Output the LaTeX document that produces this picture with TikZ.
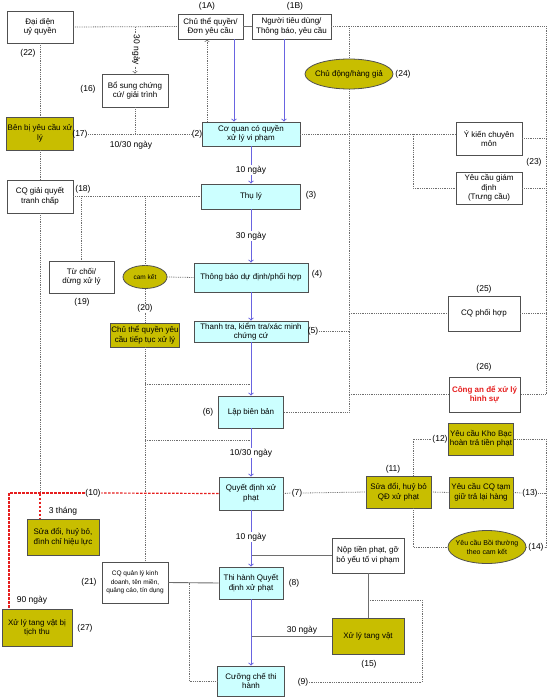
\documentclass[tikz,border=0pt]{standalone}
\usepackage{fontspec}
\setmainfont{Liberation Sans}
\usetikzlibrary{shapes.geometric}
\definecolor{cyanfill}{RGB}{204,255,255}
\definecolor{olivefill}{RGB}{200,190,0}
\definecolor{flowblue}{RGB}{105,100,225}
\definecolor{linegrey}{RGB}{110,110,110}
\definecolor{boxgrey}{RGB}{80,80,80}
\definecolor{redcol}{RGB}{230,30,30}
\begin{document}
\begin{tikzpicture}[x=1pt, y=-1pt,
  every node/.style={font=\fontsize{8}{9.5}\selectfont, align=center},
  box/.style={draw=boxgrey, line width=0.8pt, inner sep=1pt},
  cyanbox/.style={box, fill=cyanfill},
  olivebox/.style={box, fill=olivefill},
  oval/.style={ellipse, draw=boxgrey, line width=0.8pt, fill=olivefill, inner sep=0pt},
  lbl/.style={font=\fontsize{8.5}{10}\selectfont, inner sep=0.5pt},
  dotline/.style={linegrey, densely dotted, line width=0.8pt},
  solidline/.style={linegrey, line width=0.9pt},
  flow/.style={flowblue, line width=1pt, ->},
  redline/.style={redcol, dash pattern=on 2.5pt off 1.5pt, line width=1.2pt}]
        \path[use as bounding box, fill=white] (0,0) rectangle (548,700);
        \node[box, minimum width=66, minimum height=32] (dd) at (40,27) {Đại diện\\uỷ quyền};
        \node[box, minimum width=65, minimum height=25] (cthe) at (210.5,26.5) {Chủ thể quyền/\\Đơn yêu cầu};
        \node[box, minimum width=79, minimum height=25] (ntd) at (291.5,26.5) {Người tiêu dùng/\\Thông báo, yêu cầu};
        \node[box, minimum width=66, minimum height=33] (bs) at (135,90.5) {Bổ sung chứng\\cứ/ giải trình};
        \node[oval, minimum width=88, minimum height=30, label={center:Chủ động/hàng giả}] (cd) at (349,74) {};
        \node[olivebox, minimum width=66, minimum height=33] (bb) at (40,133.5) {Bên bị yêu cầu xử\\lý};
        \node[cyanbox, minimum width=98, minimum height=24] (cq) at (251,134) {Cơ quan có quyền\\xử lý vi phạm};
        \node[box, minimum width=66, minimum height=33] (yk) at (489,138.5) {Ý kiến chuyên\\môn};
        \node[box, minimum width=66, minimum height=32] (gd) at (489,188) {Yêu cầu giám\\định\\(Trưng cầu)};
        \node[box, minimum width=66, minimum height=33] (gq) at (40,196.5) {CQ giải quyết\\tranh chấp};
        \node[cyanbox, minimum width=99, minimum height=25] (tl) at (251,196.5) {Thụ lý};
        \node[box, minimum width=65, minimum height=32] (tc) at (81.5,277) {Từ chối/\\dừng xử lý};
        \node[oval, minimum width=44, minimum height=23, label={[font=\fontsize{6.5}{8}\selectfont]center:cam kết}] (ck) at (145,277) {};
        \node[cyanbox, minimum width=114, minimum height=29] (tb) at (251,277.5) {Thông báo dự định/phối hợp};
        \node[box, minimum width=72, minimum height=35] (ph) at (484,313.5) {CQ phối hợp};
        \node[olivebox, minimum width=68, minimum height=24] (ct2) at (145,335) {Chủ thể quyền yêu\\cầu tiếp tục xử lý};
        \node[cyanbox, minimum width=114, minimum height=21] (tt) at (251,331.5) {Thanh tra, kiểm tra/xác minh\\chứng cứ};
        \node[box, minimum width=71, minimum height=35, text=redcol, font=\bfseries\fontsize{8}{9.5}\selectfont] (ca) at (484.5,394.5) {Công an để xử lý\\hình sự};
        \node[cyanbox, minimum width=65, minimum height=32] (lbb) at (251,412) {Lập biên bản};
        \node[olivebox, minimum width=64, minimum height=32] (kb) at (481,439) {Yêu cầu Kho Bạc\\hoàn trả tiền phạt};
        \node[cyanbox, minimum width=64, minimum height=33] (qd) at (251,493.5) {Quyết định xử\\phạt};
        \node[olivebox, minimum width=65, minimum height=32] (sd) at (398.5,492) {Sửa đổi, huỷ bỏ\\QĐ xử phạt};
        \node[olivebox, minimum width=64, minimum height=31] (tg) at (481,492.5) {Yêu cầu CQ tạm\\giữ trả lại hàng};
        \node[olivebox, minimum width=72, minimum height=36] (sdl) at (63,537) {Sửa đổi, huỷ bỏ,\\đình chỉ hiệu lực};
        \node[box, minimum width=72, minimum height=35] (np) at (368,555.5) {Nộp tiền phạt, gỡ\\bỏ yếu tố vi phạm};
        \node[oval, minimum width=78, minimum height=33, label={[font=\fontsize{7}{9}\selectfont]center:Yêu cầu Bồi thường\\theo cam kết}] (bt) at (487,547) {};
        \node[box, minimum width=66, minimum height=41, font=\fontsize{6.5}{8.5}\selectfont] (ql) at (135,582.5) {CQ quản lý kinh\\doanh, tên miền,\\quảng cáo, tín dụng};
        \node[cyanbox, minimum width=64, minimum height=32] (th) at (251,583) {Thi hành Quyết\\định xử phạt};
        \node[olivebox, minimum width=70, minimum height=37] (tv) at (37,627.5) {Xử lý tang vật bị\\tịch thu};
        \node[olivebox, minimum width=72, minimum height=36] (xl) at (368,636) {Xử lý tang vật};
        \node[cyanbox, minimum width=67, minimum height=30] (cc) at (251,681) {Cưỡng chế thi\\hành};
        \node[lbl] (n1a) at (207,6) {(1A)};
        \node[lbl] (n1b) at (295,6) {(1B)};
        \node[lbl] (n22) at (28,53) {(22)};
        \node[lbl] (n16) at (88,89) {(16)};
        \node[lbl] (n24) at (403,74) {(24)};
        \node[lbl] (n17) at (80,134) {(17)};
        \node[lbl] (n2) at (197,134) {(2)};
        \node[lbl] (n23) at (534,162) {(23)};
        \node[lbl] (n18) at (83,189) {(18)};
        \node[lbl] (n3) at (311,195) {(3)};
        \node[lbl] (n19) at (82,302) {(19)};
        \node[lbl] (n20) at (145,308) {(20)};
        \node[lbl] (n4) at (317,274) {(4)};
        \node[lbl] (n25) at (484,289) {(25)};
        \node[lbl] (n5) at (313,331) {(5)};
        \node[lbl] (n26) at (484,367) {(26)};
        \node[lbl] (n6) at (208,412) {(6)};
        \node[lbl] (n12) at (440,439) {(12)};
        \node[lbl] (n11) at (393,469) {(11)};
        \node[lbl] (n7) at (297,493) {(7)};
        \node[lbl] (n10) at (93,493) {(10)};
        \node[lbl] (n13) at (530,493) {(13)};
        \node[lbl] (n14) at (536,547) {(14)};
        \node[lbl] (n21) at (89,582) {(21)};
        \node[lbl] (n8) at (294,583) {(8)};
        \node[lbl] (n27) at (85,628) {(27)};
        \node[lbl] (n15) at (369,664) {(15)};
        \node[lbl] (n9) at (303,682) {(9)};
        \coordinate (vx) at (349,0);
        \coordinate (rx) at (546,0);
        \coordinate (sx) at (413,0);
        \coordinate (lx) at (9,0);
        \coordinate (qx) at (189,0);
        \coordinate (j1) at (145,384);
        \coordinate (j2) at (145,440);
        \coordinate (j4) at (368,600);
        \coordinate (j5) at (422,600);
        \draw[dotline] (dd.east) -- (cthe.west);
        \draw[dotline, ->] (bs.north |- dd.east) -- (bs.north);
        \draw[dotline] (bs.south) -- (bs.south |- n17.east);
        \draw[dotline] (n17.east) -- (n2.west);
        \draw[dotline] (dd.south) -- (bb.north);
        \draw[dotline] (bb.south) -- (gq.north);
        \draw[dotline] (gq.south) -- (gq.south |- qd.west);
        \draw[dotline, ->] ([xshift=-44pt]cq.north) -- ([xshift=-44pt]cq.north |- cthe.south);
        \draw[solidline] (cthe.east) -- (ntd.west);
        \draw[flow] ([xshift=23.5pt]cthe.south) -- ([xshift=23.5pt]cthe.south |- cq.north);
        \draw[flow] ([xshift=-7.5pt]ntd.south) -- ([xshift=-7.5pt]ntd.south |- cq.north);
        \draw[dotline] (ntd.east) -| (ca.east -| rx) -- (ca.east);
        \draw[dotline] (ntd.east -| vx) -- (cd.north);
        \draw[dotline] (cd.south) -- (lbb.east -| vx) -- (lbb.east);
        \draw[dotline] (cq.east) -- (cq.east -| yk.west);
        \draw[dotline] (cq.east -| sx) |- (gd.west);
        \draw[dotline] (yk.east) -- (yk.east -| rx);
        \draw[dotline] (gd.east) -- (gd.east -| rx);
        \draw[dotline] (n5.east) -- (n5.east -| vx);
        \draw[dotline] (ph.west -| vx) -- (ph.west);
        \draw[dotline] (ph.east) -- (ph.east -| rx);
        \draw[dotline] (ca.west -| vx) -- (ca.west);
        \draw[dotline] (gq.east) -- (tl.west);
        \draw[dotline] (tc.north |- gq.east) -- (tc.north);
        \draw[dotline] (ck.north |- gq.east) -- (ck.north);
        \draw[dotline] (ck.east) -- (tb.west);
        \draw[dotline] (ck.south) -- (n20.north);
        \draw[dotline] (n20.south) -- (ct2.north);
        \draw[dotline] (ct2.south) -- (ct2.south |- ql.north);
        \draw[dotline] (j1) -- (j1 -| lbb.north);
        \draw[dotline] (j2) -- (j2 -| lbb.north);
        \draw[redline] (qd.west) -- (n10.east);
        \draw[redline] (n10.west) -| (tv.north -| lx);
        \draw[redline] (gq.south |- qd.west) -- (gq.south |- sdl.north);
        \draw[dotline] (qd.east) -- (n7.west);
        \draw[dotline] (n7.east) -- (sd.west);
        \draw[dotline] (sd.north -| sx) |- (n12.west);
        \draw[dotline] (sd.south -| sx) |- (bt.west);
        \draw[dotline] (sd.east) -- (tg.west);
        \draw[dotline] (tg.east) -- (n13.west);
        \draw[dotline] (n13.east) -- (n13.east -| rx);
        \draw[dotline] (kb.east) -| (n14.east -| rx) -- (n14.east);
        \draw[dotline] (bt.east) -- (n14.west);
        \draw[solidline] (ql.east) -- (th.west);
        \draw[dotline] (ql.east -| qx) |- (cc.west);
        \draw[solidline] (qd.south |- np.west) -- (np.west);
        \draw[solidline] (np.south) -- (xl.north);
        \draw[solidline] (th.south |- xl.west) -- (xl.west);
        \draw[dotline] (j4) -- (j5) |- (n9.east);
        \draw[flow] (cq.south) -- (tl.north);
        \draw[flow] (tl.south) -- (tb.north);
        \draw[flow] (tb.south) -- (tt.north);
        \draw[flow] (tt.south) -- (lbb.north);
        \draw[flow] (lbb.south) -- (qd.north);
        \draw[flow] (qd.south) -- (th.north);
        \draw[flow] (th.south) -- (cc.north);
        \node[lbl, rotate=-90, fill=white] (t30a) at (136,50) {30 ngày};
        \node[lbl] (t1030a) at (131,145) {10/30 ngày};
        \node[lbl, fill=white] (t10a) at (251,170) {10 ngày};
        \node[lbl, fill=white] (t30b) at (251,236) {30 ngày};
        \node[lbl, fill=white] (t1030b) at (251,453) {10/30 ngày};
        \node[lbl] (t3) at (63,511) {3 tháng};
        \node[lbl, fill=white] (t10b) at (251,537) {10 ngày};
        \node[lbl] (t90) at (32,600) {90 ngày};
        \node[lbl] (t30c) at (302,630) {30 ngày};
\end{tikzpicture}
\end{document}
